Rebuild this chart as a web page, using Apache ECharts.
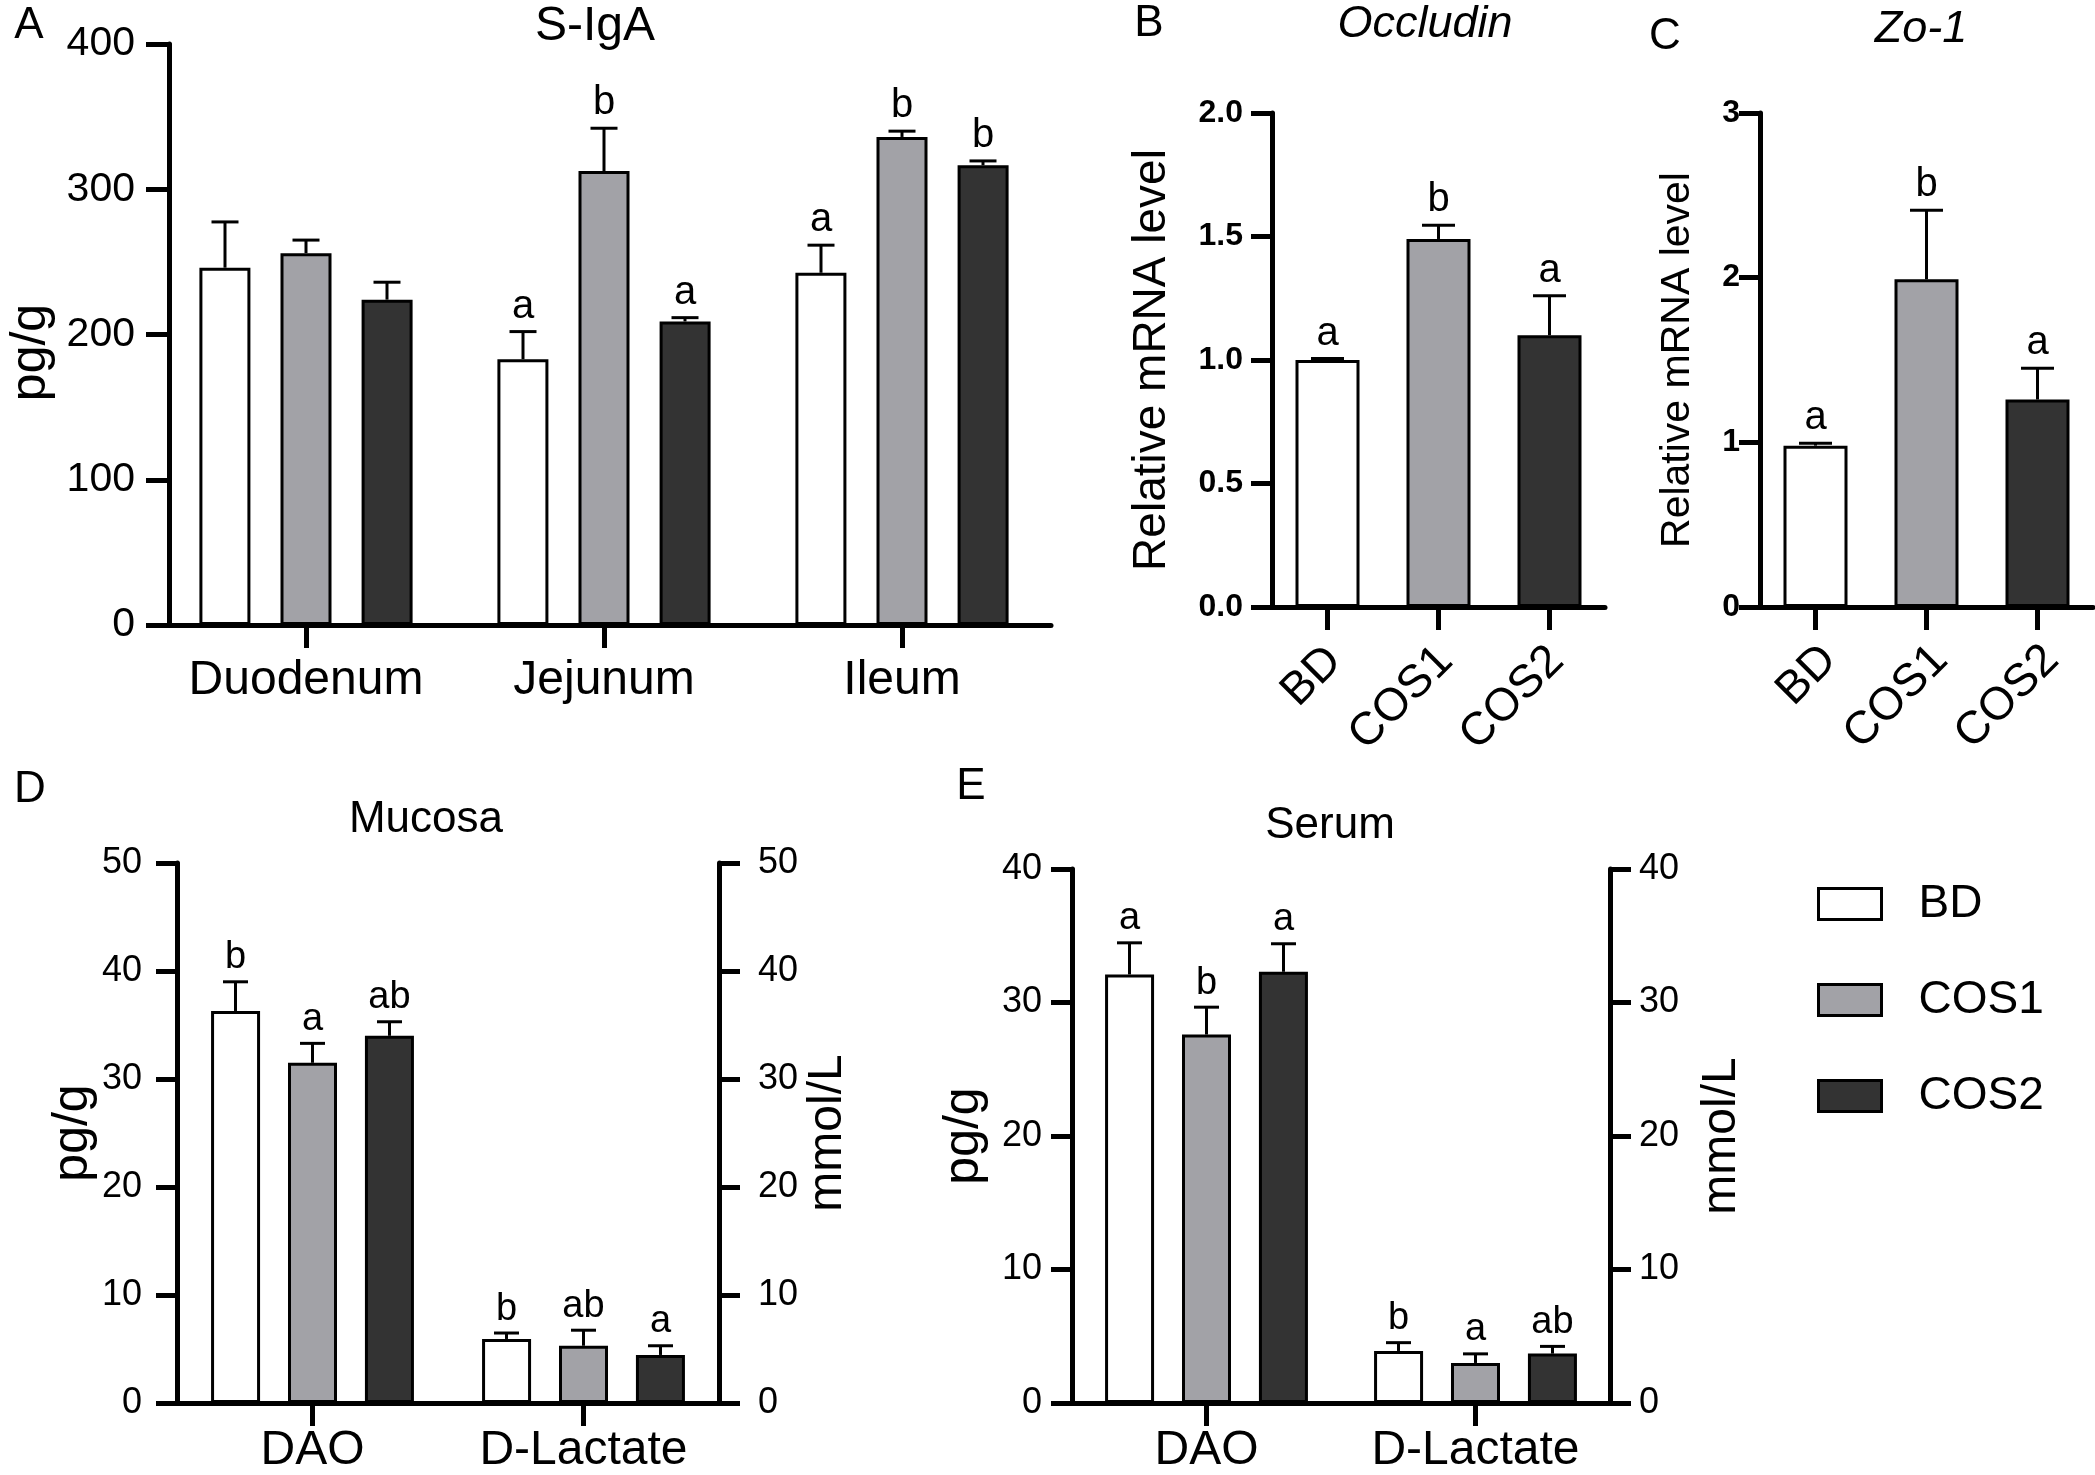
<!DOCTYPE html>
<html>
<head>
<meta charset="utf-8">
<title>S-IgA, tight junctions, DAO and D-Lactate</title>
<script src="https://cdn.jsdelivr.net/npm/echarts@6/dist/echarts.min.js"></script>
<style>
  html, body { margin: 0; padding: 0; background: #fff; }
  #chart { width: 2095px; height: 1475px; }
</style>
</head>
<body>
<div id="chart"></div>
<script>
// ============ 数据 ============
const groups = ['BD', 'COS1', 'COS2'];
const groupColors = ['#ffffff', '#a2a2a7', '#333333'];

// A: S-IgA (pg/g)
const sigaCats = ['Duodenum', 'Jejunum', 'Ileum'];
const sigaBD = [246, 183, 242.5];
const sigaBDErr = [31.5, 19, 19];
const sigaBDSig = ['', 'a', 'a'];
const sigaCOS1 = [256, 312.5, 336];
const sigaCOS1Err = [9, 29.5, 4];
const sigaCOS1Sig = ['', 'b', 'b'];
const sigaCOS2 = [224, 209, 316.5];
const sigaCOS2Err = [12, 2.6, 3];
const sigaCOS2Sig = ['', 'a', 'b'];

// B: Occludin
const occMean = [1.0, 1.49, 1.10];
const occErr = [0.006, 0.056, 0.16];
const occSig = ['a', 'b', 'a'];

// C: Zo-1
const zoMean = [0.98, 1.99, 1.26];
const zoErr = [0.015, 0.42, 0.19];
const zoSig = ['a', 'b', 'a'];

// D: Mucosa (DAO pg/g, D-Lactate mmol/L)
const dCats = ['DAO', 'D-Lactate'];
const mucBD = [36.3, 5.93];
const mucBDErr = [2.7, 0.55];
const mucBDSig = ['b', 'b'];
const mucCOS1 = [31.5, 5.3];
const mucCOS1Err = [1.8, 1.44];
const mucCOS1Sig = ['a', 'ab'];
const mucCOS2 = [34.0, 4.45];
const mucCOS2Err = [1.3, 0.85];
const mucCOS2Sig = ['ab', 'a'];

// E: Serum
const serBD = [32.1, 3.9];
const serBDErr = [2.37, 0.62];
const serBDSig = ['a', 'b'];
const serCOS1 = [27.6, 3.0];
const serCOS1Err = [2.05, 0.68];
const serCOS1Sig = ['b', 'a'];
const serCOS2 = [32.3, 3.7];
const serCOS2Err = [2.1, 0.54];
const serCOS2Sig = ['a', 'ab'];

// ============ 样式 ============
const FONT = "'Liberation Sans', Arial, Helvetica, sans-serif";
const AXW = 5;

function xAx(gi, cats, fs, margin, rotate, pad) {
  return {
    gridIndex: gi, type: 'category', data: cats,
    axisLine: { show: true, lineStyle: { color: '#000', width: AXW } },
    axisTick: { show: true, alignWithLabel: true, length: 23, lineStyle: { color: '#000', width: AXW } },
    axisLabel: { fontSize: fs, margin: margin, color: '#000', fontFamily: FONT, rotate: rotate || 0, interval: 0, padding: pad || 0 },
    splitLine: { show: false },
  };
}

function yAx(gi, max, interval, o) {
  return {
    gridIndex: gi, type: 'value', min: 0, max: max, interval: interval,
    position: o.position || 'left', offset: o.offset || 0,
    axisLine: { show: true, lineStyle: { color: '#000', width: AXW } },
    axisTick: { show: true, length: o.tick || 21, lineStyle: { color: '#000', width: AXW } },
    axisLabel: {
      fontSize: o.fs, margin: o.margin, color: '#000', fontFamily: FONT,
      fontWeight: o.bold ? 'bold' : 'normal', formatter: o.fmt,
    },
    splitLine: { show: false },
    name: o.name, nameLocation: 'middle', nameGap: o.nameGap, nameRotate: 90,
    nameTextStyle: { fontSize: o.nameFs || 48, color: '#000', fontFamily: FONT, padding: o.namePad || 0 },
  };
}

function barSeries(name, xi, yi, data, color, w, gap) {
  return {
    name: name, type: 'bar', xAxisIndex: xi, yAxisIndex: yi, data: data,
    barWidth: w, barGap: gap,
    itemStyle: { color: color, borderColor: '#000', borderWidth: 3 },
    emphasis: { disabled: true },
  };
}

// 误差线 + 显著性字母
function errSeries(xi, yi, mean, err, sig, off, cap, fs) {
  return {
    type: 'custom', xAxisIndex: xi, yAxisIndex: yi, z: 5, silent: true, clip: false,
    data: mean.map((m, i) => [i, m, err[i]]),
    renderItem: function (params, api) {
      const i = api.value(0);
      const lo = api.coord([i, api.value(1)]);
      const hi = api.coord([i, api.value(1) + api.value(2)]);
      const x = lo[0] + off;
      return {
        type: 'group',
        children: [
          { type: 'line', shape: { x1: x, y1: lo[1], x2: x, y2: hi[1] }, style: { stroke: '#000', lineWidth: 3 } },
          { type: 'line', shape: { x1: x - cap / 2, y1: hi[1], x2: x + cap / 2, y2: hi[1] }, style: { stroke: '#000', lineWidth: 3 } },
          { type: 'text', style: {
            text: sig[params.dataIndex], x: x, y: hi[1] - 5,
            textAlign: 'center', textVerticalAlign: 'bottom',
            fontSize: fs, fontFamily: FONT, fill: '#000' } },
        ],
      };
    },
  };
}

function label(text, x, y, fs, italic) {
  return {
    type: 'text', x: x, y: y,
    style: { text: text, fontSize: fs, fontFamily: FONT, fontStyle: italic ? 'italic' : 'normal',
      fill: '#000', textAlign: 'center', textVerticalAlign: 'middle' },
  };
}

const chart = echarts.init(document.getElementById('chart'));

const pitchA = 81, pitchDE = 77;

chart.setOption({
  backgroundColor: '#fff',
  animation: false,
  grid: [
    { left: 157, top: 44, width: 894, height: 581 },   // A
    { left: 1272, top: 113, width: 333, height: 494 }, // B
    { left: 1760, top: 113, width: 333, height: 494 }, // C
    { left: 177, top: 863, width: 542, height: 541 },  // D
    { left: 1072, top: 869, width: 538, height: 540 }, // E
  ],
  xAxis: [
    xAx(0, sigaCats, 48, 32),
    xAx(1, groups, 46, 54, 45, [0, -10, 0, 0]),
    xAx(2, groups, 46, 60, 45, [0, -20, 0, 0]),
    xAx(3, dCats, 48, 24),
    xAx(4, dCats, 48, 24),
  ],
  yAxis: [
    yAx(0, 400, 100, { offset: -12, fs: 41, margin: 34, tick: 23, name: 'pg/g', nameGap: 113, nameFs: 50, namePad: [0, 36, 0, 0] }),
    yAx(1, 2, 0.5, { fs: 32, margin: 29, bold: true, fmt: v => v.toFixed(1), name: 'Relative mRNA level', nameGap: 97, nameFs: 46 }),
    yAx(2, 3, 1, { fs: 32, margin: 20, bold: true, name: 'Relative mRNA level', nameGap: 62, nameFs: 41 }),
    yAx(3, 50, 10, { fs: 36, margin: 35, name: 'pg/g', nameGap: 73, nameFs: 50 }),
    yAx(3, 50, 10, { position: 'right', fs: 36, margin: 39, name: 'mmol/L', nameGap: 85, nameFs: 48 }),
    yAx(4, 40, 10, { fs: 36, margin: 30, name: 'pg/g', nameGap: 83, nameFs: 50 }),
    yAx(4, 40, 10, { position: 'right', fs: 36, margin: 29, name: 'mmol/L', nameGap: 88, nameFs: 48 }),
  ],
  legend: {
    orient: 'vertical', left: 1817, top: 881, padding: 0,
    itemWidth: 63, itemHeight: 31, itemGap: 50, selectedMode: false,
    textStyle: { fontSize: 46, color: '#000', fontFamily: FONT, padding: [0, 0, 0, 32] },
    data: groups.map((g, i) => ({
      name: g, icon: 'rect',
      itemStyle: { color: groupColors[i], borderColor: '#000', borderWidth: 3 },
    })),
  },
  graphic: [
    label('A', 29, 26, 44),
    label('S-IgA', 595, 27, 48),
    label('B', 1149, 24, 44),
    label('Occludin', 1425, 24, 45, true),
    label('C', 1665, 37, 44),
    label('Zo-1', 1921, 29, 45, true),
    label('D', 30, 790, 44),
    label('Mucosa', 426, 820, 44),
    label('E', 971, 787, 44),
    label('Serum', 1330, 826, 44),
  ],
  series: [
    // A
    barSeries('BD', 0, 0, sigaBD, groupColors[0], 51, '59%'),
    barSeries('COS1', 0, 0, sigaCOS1, groupColors[1], 51, '59%'),
    barSeries('COS2', 0, 0, sigaCOS2, groupColors[2], 51, '59%'),
    errSeries(0, 0, sigaBD, sigaBDErr, sigaBDSig, -pitchA, 27, 40),
    errSeries(0, 0, sigaCOS1, sigaCOS1Err, sigaCOS1Sig, 0, 27, 40),
    errSeries(0, 0, sigaCOS2, sigaCOS2Err, sigaCOS2Sig, pitchA, 27, 40),
    // B
    {
      name: 'Occludin', type: 'bar', xAxisIndex: 1, yAxisIndex: 1, barWidth: 64,
      data: occMean.map((v, i) => ({ value: v, itemStyle: { color: groupColors[i] } })),
      itemStyle: { borderColor: '#000', borderWidth: 3 }, emphasis: { disabled: true },
    },
    errSeries(1, 1, occMean, occErr, occSig, 0, 33, 40),
    // C
    {
      name: 'Zo-1', type: 'bar', xAxisIndex: 2, yAxisIndex: 2, barWidth: 64,
      data: zoMean.map((v, i) => ({ value: v, itemStyle: { color: groupColors[i] } })),
      itemStyle: { borderColor: '#000', borderWidth: 3 }, emphasis: { disabled: true },
    },
    errSeries(2, 2, zoMean, zoErr, zoSig, 0, 33, 40),
    // D
    barSeries('BD', 3, 3, mucBD, groupColors[0], 49, '57%'),
    barSeries('COS1', 3, 3, mucCOS1, groupColors[1], 49, '57%'),
    barSeries('COS2', 3, 3, mucCOS2, groupColors[2], 49, '57%'),
    errSeries(3, 3, mucBD, mucBDErr, mucBDSig, -pitchDE, 25, 38),
    errSeries(3, 3, mucCOS1, mucCOS1Err, mucCOS1Sig, 0, 25, 38),
    errSeries(3, 3, mucCOS2, mucCOS2Err, mucCOS2Sig, pitchDE, 25, 38),
    // E
    barSeries('BD', 4, 5, serBD, groupColors[0], 49, '57%'),
    barSeries('COS1', 4, 5, serCOS1, groupColors[1], 49, '57%'),
    barSeries('COS2', 4, 5, serCOS2, groupColors[2], 49, '57%'),
    errSeries(4, 5, serBD, serBDErr, serBDSig, -pitchDE, 25, 38),
    errSeries(4, 5, serCOS1, serCOS1Err, serCOS1Sig, 0, 25, 38),
    errSeries(4, 5, serCOS2, serCOS2Err, serCOS2Sig, pitchDE, 25, 38),
  ],
});
</script>
</body>
</html>
